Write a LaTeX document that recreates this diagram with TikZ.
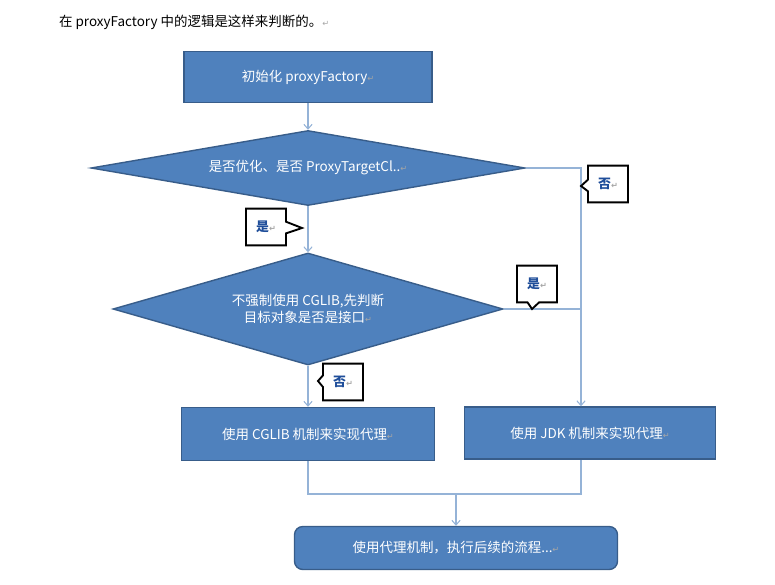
\documentclass[tikz,border=0pt]{standalone}
\usepackage{fontspec}
\setmainfont{Noto Sans CJK SC}
\newfontfamily\markfont{DejaVu Sans}
\usetikzlibrary{arrows.meta, positioning, shapes.geometric, shapes.callouts, calc}
\definecolor{boxblue}{HTML}{4F81BD}
\definecolor{boxedge}{HTML}{385D8A}
\definecolor{linkblue}{HTML}{95B3D7}
\definecolor{tagblue}{HTML}{1F4E9A}
\newcommand{\retmark}{{\markfont\fontsize{7}{8}\selectfont\textcolor{gray!70}{↵}}}

\begin{document}
\begin{tikzpicture}[
    x=0.03cm, y=-0.03cm,
    >={Straight Barb[length=4pt,width=7pt]},
    stepbox/.style={draw=boxedge, fill=boxblue, line width=1.2pt, text=white, font=\fontsize{11.5}{15}\selectfont, inner sep=2pt},
    decision/.style={diamond, draw=boxedge, fill=boxblue, line width=1.2pt, text=white, font=\fontsize{11.5}{15}\selectfont, align=center, inner sep=1pt},
    link/.style={draw=linkblue, line width=0.9pt},
    tag/.style={rectangle callout, draw=black, line width=1.6pt, fill=white, text=tagblue, font=\bfseries\fontsize{11}{13}\selectfont, minimum width=1.2cm, minimum height=1.1cm, callout pointer width=0.35cm, inner sep=0pt},
]
\useasboundingbox (0,0) rectangle (775,585);

% Heading line
\node[anchor=west, font=\fontsize{11.5}{15}\selectfont] (title) at (55,22) {在 proxyFactory 中的逻辑是这样来判断的。\retmark};

% Steps and decisions
\node[stepbox, minimum width=7.44cm, minimum height=1.53cm] (init) at (308,77) {初始化 proxyFactory\retmark};
\node[decision, aspect=5.8, minimum width=13.02cm, minimum height=2.25cm] (opt) at (308,168) {是否优化、是否 ProxyTargetCl..\retmark};
\node[decision, aspect=3.5, minimum width=11.7cm, minimum height=3.36cm] (iface) at (308,309) {不强制使用 CGLIB,先判断\\目标对象是否是接口\retmark};
\node[stepbox, minimum width=7.59cm, minimum height=1.59cm] (cglib) at (308,434) {使用 CGLIB 机制来实现代理\retmark};
\node[stepbox, minimum width=7.53cm, minimum height=1.56cm] (jdk) at (590,433) {使用 JDK 机制来实现代理\retmark};
\node[stepbox, rounded corners=0.25cm, minimum width=9.69cm, minimum height=1.29cm] (run) at (456,548) {使用代理机制，执行后续的流程...\retmark};

% Connectors
\coordinate (jdkin) at ($(jdk.north)+(-9,0)$);
\coordinate (jdkout) at ($(jdk.south)+(-9,0)$);
\coordinate (merge) at (456,494);
\draw[link, ->] (init) -- (opt);
\draw[link, ->] (opt) -- (iface);
\draw[link, ->] (iface) -- (cglib);
\draw[link, ->] (opt.east) -| (jdkin);
\draw[link] (iface.east) -- (iface.east -| jdkin);
\draw[link] (cglib.south) |- (merge) -| (jdkout);
\draw[link, ->] (merge) -- (run);

% Yes / no tags
\node[tag, callout absolute pointer={(302,228)}] (yes1) at (266,227) {是\retmark};
\node[tag, callout absolute pointer={(581,186)}] (no1) at (608,184) {否\retmark};
\node[tag, callout absolute pointer={(532,309)}] (yes2) at (537,284) {是\retmark};
\node[tag, callout absolute pointer={(318,381)}] (no2) at (343,382) {否\retmark};

\end{tikzpicture}
\end{document}
